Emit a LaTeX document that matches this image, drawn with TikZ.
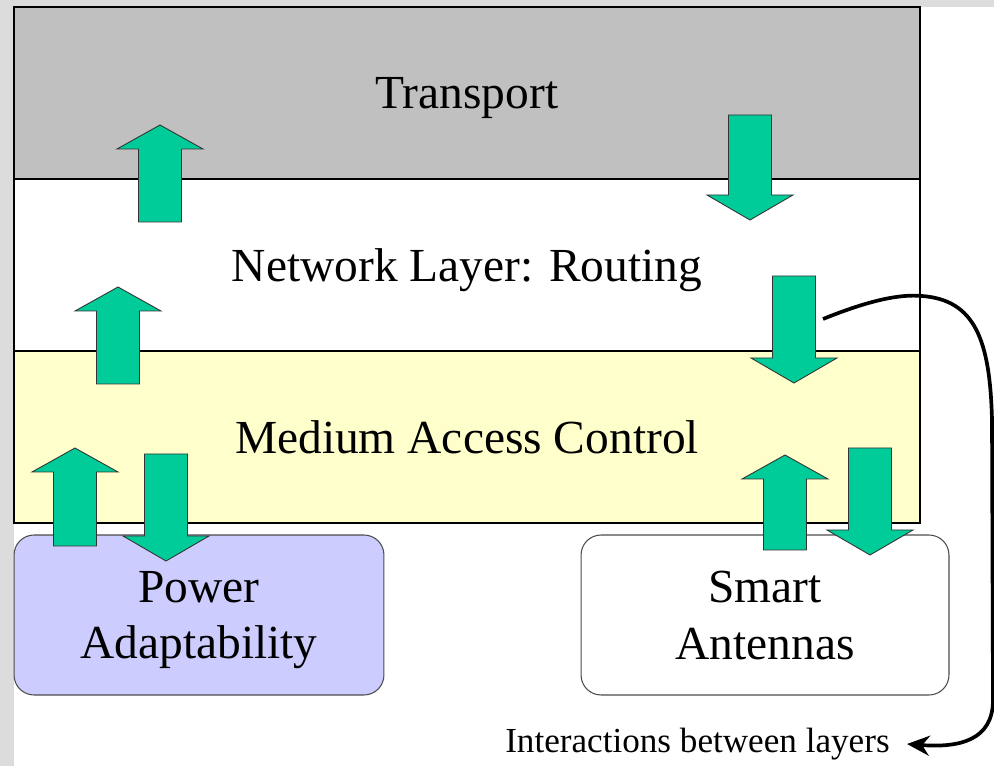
\documentclass[tikz,border=0pt]{standalone}
\usepackage{fontspec}
\setmainfont{Liberation Serif}
\usetikzlibrary{positioning,arrows.meta}
\definecolor{transgray}{HTML}{C0C0C0}
\definecolor{macyellow}{HTML}{FFFFCC}
\definecolor{powerblue}{HTML}{CCCCFF}
\definecolor{arrgreen}{HTML}{00CC99}
\definecolor{marble}{HTML}{DCDCDC}
% fat block arrows: centre x, tail y, tip y
\newcommand{\arrowup}[3]{\draw[blockarr] ({#1-21.5},#2) -- ({#1-21.5},{#3+24}) -- ({#1-43},{#3+24}) -- (#1,#3) -- ({#1+43},{#3+24}) -- ({#1+21.5},{#3+24}) -- ({#1+21.5},#2) -- cycle;}
\newcommand{\arrowdown}[3]{\draw[blockarr] ({#1-21.5},#2) -- ({#1-21.5},{#3-25}) -- ({#1-43},{#3-25}) -- (#1,#3) -- ({#1+43},{#3-25}) -- ({#1+21.5},{#3-25}) -- ({#1+21.5},#2) -- cycle;}
\begin{document}
\begin{tikzpicture}[x=0.02cm, y=-0.02cm,
  layer/.style = {draw, line width=0.9pt, minimum width=18.12cm, minimum height=3.44cm, outer sep=0pt, text depth=0pt, font=\fontsize{27}{32.4}\selectfont},
  unitbox/.style = {draw=black!70, line width=0.6pt, rounded corners=0.4cm, minimum width=7.4cm, minimum height=3.2cm, align=center, text depth=0pt, font=\fontsize{27}{32.4}\selectfont},
  blockarr/.style = {fill=arrgreen, draw=black!80, line width=0.5pt},
  note/.style = {font=\fontsize{20}{24}\selectfont, inner xsep=0.34cm, inner ysep=1pt}]
  \useasboundingbox (0,0) rectangle (994,766);
  % background
  \fill[marble] (0,0) rectangle (14,766);
  \fill[marble] (0,0) rectangle (994,7);
  % Layers
  \node[layer, fill=transgray] (transport) at (467,93) {Transport};
  \node[layer, fill=white] (network) [below=0pt of transport] {Network Layer: Routing};
  \node[layer, fill=macyellow] (mac) [below=0pt of network] {Medium Access Control};
  % Boxes
  \node[unitbox, fill=powerblue] (power) at (199,615) {Power\\Adaptability};
  \node[unitbox, fill=white, minimum width=7.36cm] (antennas) at (765,615) {Smart\\Antennas};
  % Arrows
  \arrowup{160}{222}{125}
  \arrowup{118}{384}{287}
  \arrowup{75}{546}{448}
  \arrowup{785}{550}{455}
  \arrowdown{750}{115}{220}
  \arrowdown{794}{276}{383}
  \arrowdown{166}{454}{561}
  \arrowdown{870}{448}{555}
  % Interactions
  \node[note, anchor=east] (interact) at (907,744) {Interactions between layers};
  \coordinate (hook) at (823,319);
  \draw[line width=2.1pt, -{Stealth[length=0.45cm, width=0.4cm]}] (hook) .. controls (870,300) and (900,294) .. (922,296) .. controls (975,300) and (990,340) .. (992,420) -- (993,700) .. controls (993,740) and (960,748) .. (interact.east);
\end{tikzpicture}
\end{document}
